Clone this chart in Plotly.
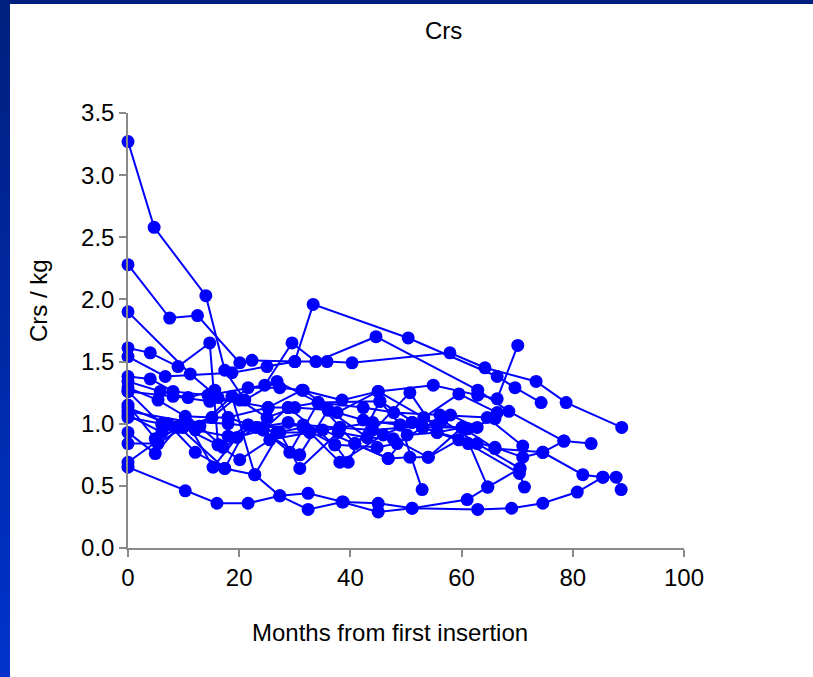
import plotly.graph_objects as go

# Respiratory system compliance per kg, one series per patient
p01_months = [0, 4.7, 14.0, 17.4, 21.0, 26.8, 34.2, 45.3, 53.0, 60.1]
p01_crs = [3.27, 2.58, 2.03, 1.43, 1.19, 1.34, 1.17, 1.18, 0.97, 0.97]
p02_months = [0, 7.5, 12.5, 20.1, 22.3, 30.0, 35.8, 40.3, 57.9, 64.2, 73.4, 78.8, 88.8]
p02_crs = [2.28, 1.85, 1.87, 1.49, 1.51, 1.50, 1.50, 1.49, 1.57, 1.45, 1.34, 1.17, 0.97]
p03_months = [0, 11.2, 16.2, 25.2, 31.3, 38.5, 45.0, 54.9, 62.9, 66.4, 70.1]
p03_crs = [1.90, 1.40, 1.21, 1.13, 1.27, 1.19, 1.26, 1.31, 1.23, 1.20, 1.63]
p04_months = [0, 4.0, 9.0, 14.7, 16.2, 21.6, 26.8, 32.7, 38.1, 44.0, 51.1]
p04_crs = [1.61, 1.57, 1.46, 1.65, 0.83, 0.99, 0.93, 0.93, 0.97, 1.01, 1.01]
p05_months = [0, 6.7, 18.7, 25.0, 30.0, 33.3, 50.4, 66.4, 69.6, 74.3]
p05_crs = [1.54, 1.38, 1.41, 1.46, 1.50, 1.96, 1.69, 1.38, 1.29, 1.17]
p06_months = [0, 4.0, 8.1, 14.4, 24.6, 29.5, 33.8, 44.6, 62.9, 68.5, 78.4]
p06_crs = [1.38, 1.36, 1.26, 1.23, 1.31, 1.65, 1.50, 1.70, 1.27, 1.10, 0.86]
p07_months = [0, 5.8, 10.8, 15.6, 18.0, 24.3, 28.8, 34.2, 42.3, 47.8, 56.1, 64.6, 71.0]
p07_crs = [1.34, 1.26, 1.21, 1.27, 1.05, 0.95, 1.13, 1.17, 1.13, 1.09, 1.07, 1.05, 0.82]
p08_months = [0, 5.4, 10.3, 15.1, 21.6, 27.3, 31.5, 37.6, 45.0, 53.2, 59.5, 66.4]
p08_crs = [1.29, 1.19, 1.06, 1.05, 1.29, 1.29, 1.27, 1.09, 1.26, 1.05, 1.24, 1.09]
p09_months = [0, 6.1, 12.9, 17.1, 23.2, 30.9, 36.0, 43.0, 50.7, 55.6, 60.1, 66.0,
              74.6, 81.8, 85.4, 87.8, 88.7]
p09_crs = [1.26, 0.99, 0.98, 0.81, 0.97, 0.75, 1.11, 0.89, 1.25, 0.93, 0.97, 0.80,
           0.77, 0.59, 0.57, 0.57, 0.47]
p10_months = [0, 4.9, 9.9, 16.2, 20.1, 25.5, 32.7, 38.1, 45.9, 51.1, 56.5, 62.8, 70.5]
p10_crs = [1.15, 0.88, 0.97, 0.83, 0.71, 0.87, 0.93, 0.69, 0.91, 1.01, 1.03, 0.84, 0.64]
p11_months = [0, 7.2, 12.1, 17.4, 21.6, 26.8, 31.5, 37.2, 44.8, 48.4, 53.0, 61.2, 70.4, 71.3]
p11_crs = [1.13, 1.00, 0.77, 0.64, 0.99, 0.93, 0.97, 0.83, 0.81, 0.84, 0.97, 0.84, 0.60, 0.49]
p12_months = [0, 6.1, 10.8, 15.3, 19.6, 24.3, 29.1, 34.2, 40.8, 46.8, 50.2, 55.6,
              66.0, 71.0, 74.6, 78.4, 83.3]
p12_crs = [1.07, 0.93, 1.00, 0.65, 0.89, 0.95, 0.77, 1.17, 0.84, 0.72, 0.91, 0.93,
           0.81, 0.73, 0.77, 0.86, 0.84]
p13_months = [0, 4.9, 9.0, 12.9, 18.7, 22.8, 27.3, 30.9, 37.8, 43.0, 47.7, 54.0, 60.1, 64.7, 70.5]
p13_crs = [0.93, 0.76, 0.97, 0.98, 1.22, 0.59, 0.93, 0.64, 0.93, 0.89, 0.88, 0.73, 0.97, 0.49, 0.64]
p14_months = [0, 5.4, 9.9, 15.1, 18.0, 25.2, 28.8, 37.2, 39.6, 45.3, 49.0, 52.9]
p14_crs = [0.84, 0.84, 0.97, 1.05, 1.05, 1.13, 1.13, 0.83, 0.69, 1.18, 0.99, 0.47]
p15_months = [0, 10.3, 16.0, 21.6, 27.3, 32.4, 38.7, 45.0, 51.1, 61.0, 64.7]
p15_crs = [0.65, 0.46, 0.36, 0.36, 0.42, 0.44, 0.37, 0.36, 0.32, 0.39, 0.49]
p16_months = [0, 9.0, 17.4, 22.8, 27.3, 32.4, 38.5, 45.0, 51.1, 62.9, 69.0, 74.6, 80.8, 85.4]
p16_crs = [0.69, 0.98, 0.64, 0.59, 0.42, 0.31, 0.37, 0.29, 0.32, 0.31, 0.32, 0.36, 0.45, 0.57]
p17_months = [0, 10.3, 18.0, 24.3, 31.5, 38.1, 44.0, 55.6, 61.2, 66.0]
p17_crs = [1.10, 1.02, 1.00, 0.97, 0.99, 0.97, 0.95, 0.99, 0.96, 1.04]
p18_months = [0, 8.1, 14.7, 20.1, 25.0, 30.0, 36.0, 42.3, 48.9, 53.0, 58.0, 62.8]
p18_crs = [1.26, 1.22, 1.18, 1.19, 1.05, 1.13, 1.11, 1.03, 0.99, 0.97, 1.07, 0.97]
p19_months = [0, 6.1, 12.1, 18.0, 23.2, 28.8, 35.0, 40.8, 46.8, 50.7, 54.0, 59.5]
p19_crs = [1.05, 1.00, 0.95, 0.90, 0.97, 1.01, 0.95, 0.84, 0.72, 0.73, 0.73, 0.87]

patients = [
    (p01_months, p01_crs), (p02_months, p02_crs), (p03_months, p03_crs),
    (p04_months, p04_crs), (p05_months, p05_crs), (p06_months, p06_crs),
    (p07_months, p07_crs), (p08_months, p08_crs), (p09_months, p09_crs),
    (p10_months, p10_crs), (p11_months, p11_crs), (p12_months, p12_crs),
    (p13_months, p13_crs), (p14_months, p14_crs), (p15_months, p15_crs),
    (p16_months, p16_crs), (p17_months, p17_crs), (p18_months, p18_crs),
    (p19_months, p19_crs),
]

x_ticks = [0, 20, 40, 60, 80, 100]
y_ticks = [0.0, 0.5, 1.0, 1.5, 2.0, 2.5, 3.0, 3.5]

BLUE = "#0000FF"
AXIS_GREY = "#8a8a8a"
FONT = "Liberation Sans, Arial, sans-serif"
FONT_SIZE = 24

W, H = 813, 677
L, R, T, B = 128, 129, 113, 129
plot_w = W - L - R
plot_h = H - T - B

fig = go.Figure()
for months, crs in patients:
    fig.add_trace(go.Scatter(
        x=months, y=crs, mode="lines+markers",
        line=dict(color=BLUE, width=2),
        marker=dict(color=BLUE, size=13, line=dict(width=0)),
        cliponaxis=False, showlegend=False, hoverinfo="x+y",
    ))

# Slide frame: dark band across the top and a graded blue strip on the left
def px_x(p):
    return (p - L) / plot_w

def px_y(p):
    return 1 - (p - T) / plot_h

shapes = [dict(type="rect", xref="paper", yref="paper",
               x0=px_x(0), x1=px_x(W), y0=px_y(0), y1=px_y(4),
               fillcolor="#00207f", line=dict(width=0), layer="above")]
bands = 24
for i in range(bands):
    t = i / (bands - 1)
    g = int(0x20 + (0x33 - 0x20) * t)
    b = int(0x80 + (0xcc - 0x80) * t)
    y_top = i * H / bands
    y_bot = (i + 1) * H / bands + 1
    shapes.append(dict(type="rect", xref="paper", yref="paper",
                       x0=px_x(0), x1=px_x(10), y0=px_y(y_bot), y1=px_y(y_top),
                       fillcolor=f"rgb(0,{g},{b})", line=dict(width=0), layer="above"))

axis_common = dict(
    showline=True, linecolor=AXIS_GREY, linewidth=1.5,
    ticks="outside", ticklen=7, tickwidth=1.5, tickcolor=AXIS_GREY,
    showgrid=False, zeroline=False,
    tickfont=dict(family=FONT, size=FONT_SIZE, color="black"),
)

label_font = dict(family=FONT, size=FONT_SIZE, color="black")

fig.update_layout(
    width=W, height=H,
    margin=dict(l=L, r=R, t=T, b=B),
    paper_bgcolor="white", plot_bgcolor="white",
    xaxis=dict(range=[0, 100], tickvals=x_ticks, ticktext=[str(v) for v in x_ticks],
               **axis_common),
    yaxis=dict(range=[0, 3.5], tickvals=y_ticks, ticktext=[f"{v:.1f}" for v in y_ticks],
               **axis_common),
    shapes=shapes,
    annotations=[
        dict(text="Crs", xref="paper", yref="paper", x=px_x(443), y=px_y(30),
             showarrow=False, font=label_font, xanchor="center", yanchor="middle"),
        dict(text="Months from first insertion", xref="paper", yref="paper",
             x=px_x(390), y=px_y(632), showarrow=False, font=label_font,
             xanchor="center", yanchor="middle"),
        dict(text="Crs / kg", xref="paper", yref="paper", x=px_x(38), y=px_y(301),
             showarrow=False, textangle=-90, font=label_font,
             xanchor="center", yanchor="middle"),
    ],
)

fig.write_html("out.html")
